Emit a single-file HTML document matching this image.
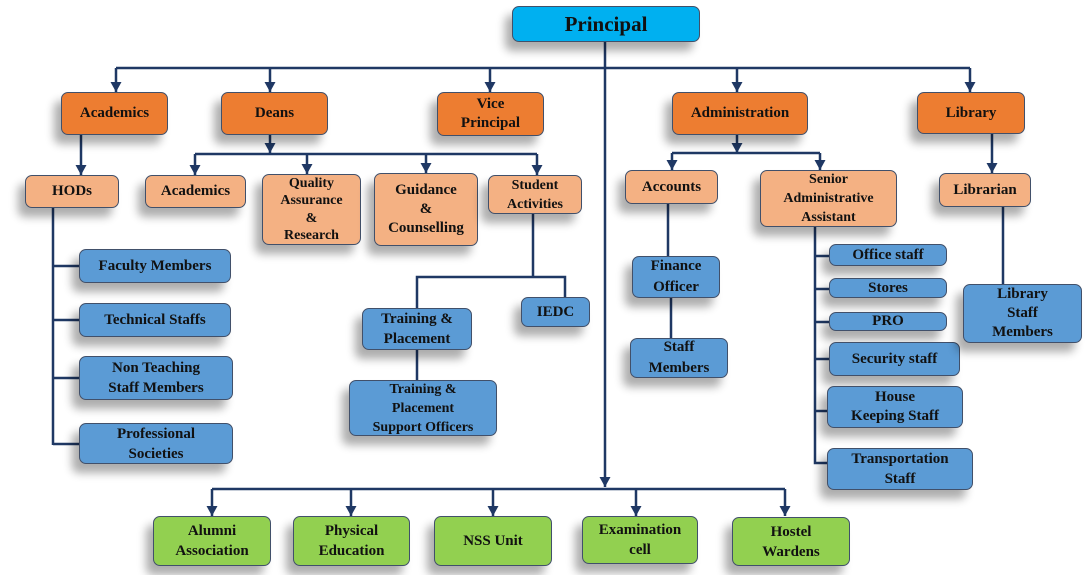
<!DOCTYPE html>
<html><head><meta charset="utf-8"><style>
body{margin:0;width:1087px;height:575px;background:#fff;position:relative;overflow:hidden;font-family:"Liberation Serif",serif;font-weight:bold;}
.b{position:absolute;box-sizing:border-box;border:1.5px solid #41506a;border-radius:7px;display:flex;align-items:center;justify-content:center;text-align:center;font-size:15px;line-height:19px;color:#111;box-shadow:-7px 9px 9px rgba(0,0,0,.32);}
.o{background:#ED7D31}.l{background:#F4B183}.u{background:#5B9BD5}.g{background:#92D050}.c{background:#00B0F0}
svg{position:absolute;left:0;top:0}
</style></head><body>
<svg width="1087" height="575">
<defs><marker id="a" markerWidth="12" markerHeight="12" refX="10" refY="5.5" orient="auto" markerUnits="userSpaceOnUse"><path d="M0,0 L10,5.5 L0,11 Z" fill="#1f3864"/></marker></defs>
<g stroke="#1f3864" stroke-width="2.5" fill="none">
<path d="M116,68 H970"/>
<path d="M116,68 V92" marker-end="url(#a)"/><path d="M270,68 V92" marker-end="url(#a)"/><path d="M490,68 V92" marker-end="url(#a)"/><path d="M737,68 V92" marker-end="url(#a)"/><path d="M970,68 V92" marker-end="url(#a)"/>
<path d="M605,42 V487" marker-end="url(#a)"/>
<path d="M212,489 H785"/>
<path d="M212,489 V516" marker-end="url(#a)"/><path d="M351,489 V516" marker-end="url(#a)"/><path d="M493,489 V516" marker-end="url(#a)"/><path d="M636,489 V516" marker-end="url(#a)"/><path d="M785,489 V516" marker-end="url(#a)"/>
<path d="M81,135 V175" marker-end="url(#a)"/>
<path d="M270,135 V153" marker-end="url(#a)"/>
<path d="M195,154 H537"/>
<path d="M195,154 V175" marker-end="url(#a)"/><path d="M307,154 V174" marker-end="url(#a)"/><path d="M426,154 V173" marker-end="url(#a)"/><path d="M537,154 V175" marker-end="url(#a)"/>
<path d="M53,208 V445 M53,266 H80 M53,320 H80 M53,378 H80 M53,444 H80"/>
<path d="M533,214 V277 M417,308 V277 H565 V297 M417,350 V380"/>
<path d="M737,135 V153" marker-end="url(#a)"/>
<path d="M672,153 H820"/>
<path d="M672,153 V170" marker-end="url(#a)"/><path d="M820,153 V170" marker-end="url(#a)"/>
<path d="M668,204 V256 M671,298 V338"/>
<path d="M815,227 V463 H828 M815,256 H830 M815,289 H830 M815,322 H830 M815,359 H830 M815,411 H828"/>
<path d="M992,134 V173" marker-end="url(#a)"/>
<path d="M1003,207 V284"/>
</g></svg>
<div class="b c" style="left:512px;top:6px;width:188px;height:36px;font-size:21px">Principal</div>
<div class="b o" style="left:61px;top:92px;width:107px;height:43px">Academics</div>
<div class="b o" style="left:221px;top:92px;width:107px;height:43px">Deans</div>
<div class="b o" style="left:437px;top:92px;width:107px;height:44px">Vice<br>Principal</div>
<div class="b o" style="left:672px;top:92px;width:136px;height:43px">Administration</div>
<div class="b o" style="left:917px;top:92px;width:108px;height:42px">Library</div>
<div class="b l" style="left:25px;top:175px;width:94px;height:33px">HODs</div>
<div class="b l" style="left:145px;top:175px;width:101px;height:33px">Academics</div>
<div class="b l" style="left:262px;top:174px;width:99px;height:71px;font-size:14px;line-height:17.5px">Quality<br>Assurance<br>&amp;<br>Research</div>
<div class="b l" style="left:374px;top:173px;width:104px;height:73px">Guidance<br>&amp;<br>Counselling</div>
<div class="b l" style="left:488px;top:175px;width:94px;height:39px;font-size:14px;line-height:19px">Student<br>Activities</div>
<div class="b u" style="left:79px;top:249px;width:152px;height:34px">Faculty Members</div>
<div class="b u" style="left:79px;top:303px;width:152px;height:34px">Technical Staffs</div>
<div class="b u" style="left:79px;top:356px;width:154px;height:44px;line-height:20px">Non Teaching<br>Staff Members</div>
<div class="b u" style="left:79px;top:423px;width:154px;height:41px;line-height:20px">Professional<br>Societies</div>
<div class="b u" style="left:521px;top:297px;width:69px;height:30px">IEDC</div>
<div class="b u" style="left:362px;top:308px;width:110px;height:42px;line-height:20px">Training &amp;<br>Placement</div>
<div class="b u" style="left:349px;top:380px;width:148px;height:56px;font-size:14px;line-height:19px">Training &amp;<br>Placement<br>Support Officers</div>
<div class="b l" style="left:625px;top:170px;width:93px;height:34px">Accounts</div>
<div class="b l" style="left:760px;top:170px;width:137px;height:57px;font-size:14px;line-height:19px">Senior<br>Administrative<br>Assistant</div>
<div class="b l" style="left:939px;top:173px;width:92px;height:34px">Librarian</div>
<div class="b u" style="left:632px;top:256px;width:88px;height:42px;line-height:21px">Finance<br>Officer</div>
<div class="b u" style="left:630px;top:338px;width:98px;height:40px;line-height:21px">Staff<br>Members</div>
<div class="b u" style="left:829px;top:244px;width:118px;height:22px">Office staff</div>
<div class="b u" style="left:829px;top:278px;width:118px;height:20px">Stores</div>
<div class="b u" style="left:829px;top:312px;width:118px;height:19px">PRO</div>
<div class="b u" style="left:829px;top:342px;width:131px;height:34px">Security staff</div>
<div class="b u" style="left:827px;top:386px;width:136px;height:42px;line-height:19px">House<br>Keeping Staff</div>
<div class="b u" style="left:827px;top:448px;width:146px;height:42px;line-height:20px">Transportation<br>Staff</div>
<div class="b u" style="left:963px;top:284px;width:119px;height:59px;line-height:19px">Library<br>Staff<br>Members</div>
<div class="b g" style="left:153px;top:516px;width:118px;height:50px;line-height:20px">Alumni<br>Association</div>
<div class="b g" style="left:293px;top:516px;width:117px;height:50px;line-height:20px">Physical<br>Education</div>
<div class="b g" style="left:434px;top:516px;width:118px;height:50px">NSS Unit</div>
<div class="b g" style="left:582px;top:516px;width:116px;height:48px;line-height:20px">Examination<br>cell</div>
<div class="b g" style="left:732px;top:517px;width:118px;height:49px;line-height:20px">Hostel<br>Wardens</div>
</body></html>
